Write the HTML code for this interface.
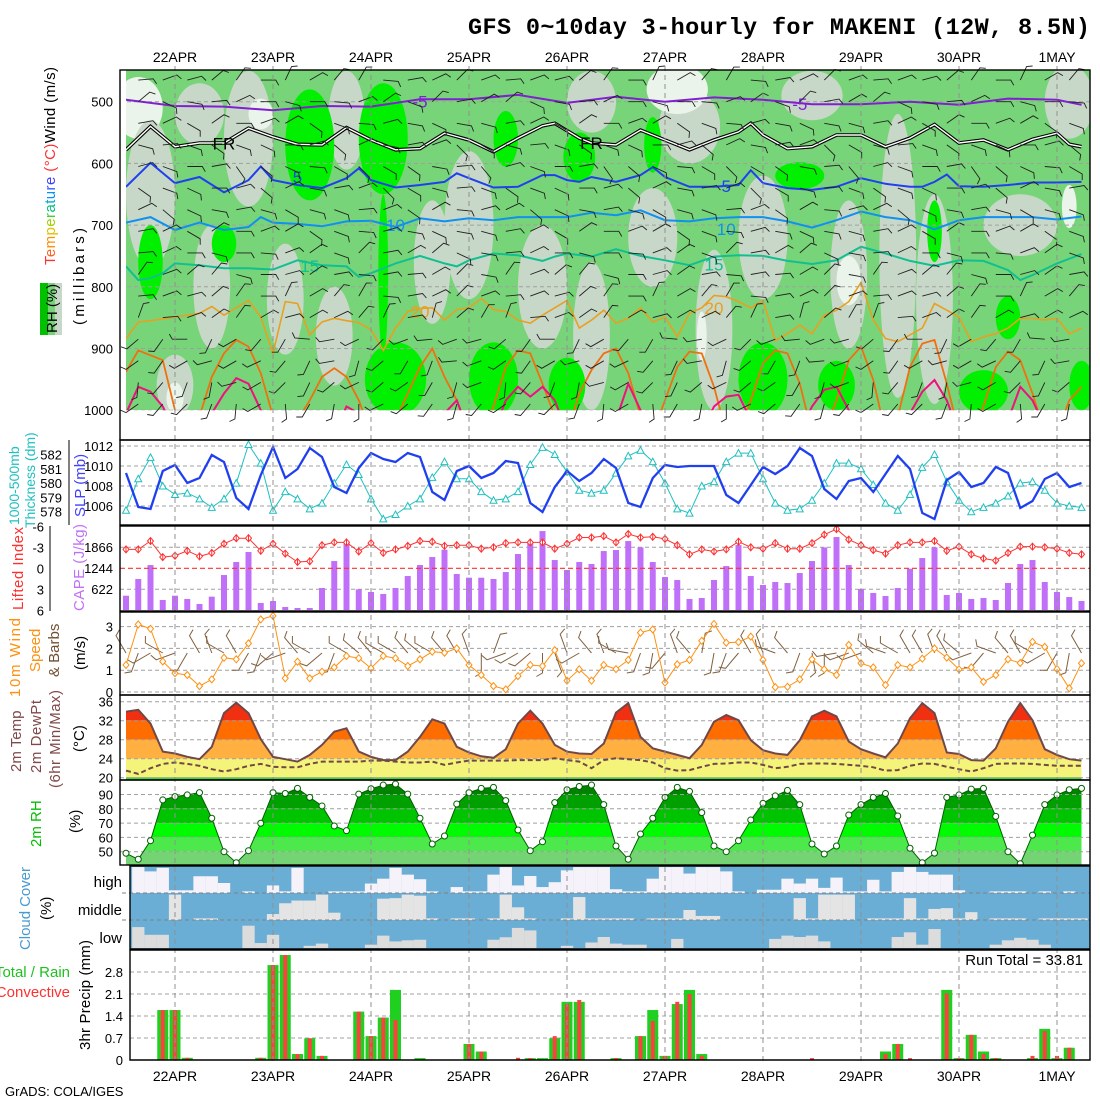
<!DOCTYPE html>
<html><head><meta charset="utf-8"><title>GFS meteogram MAKENI</title>
<style>
html,body{margin:0;padding:0;background:#fff;}
svg{display:block;font-family:"Liberation Sans",sans-serif;}
.tk{font-size:13px;fill:#000;}
.dl{font-size:14px;fill:#000;}
</style></head><body>
<svg id="chart" width="1100" height="1100" viewBox="0 0 1100 1100" xmlns="http://www.w3.org/2000/svg">
<rect x="0" y="0" width="1100" height="1100" fill="#fff"/>
<text x="1090" y="34" text-anchor="end" font-family="Liberation Mono, monospace" font-weight="bold" font-size="23.5" textLength="622">GFS 0~10day 3-hourly for MAKENI (12W, 8.5N)</text>

<text transform="translate(55,265) rotate(-90)" font-size="15" textLength="198"><tspan fill="#ff3030">T</tspan><tspan fill="#ff6020">e</tspan><tspan fill="#ff9000">m</tspan><tspan fill="#e0c000">p</tspan><tspan fill="#a0d000">e</tspan><tspan fill="#40d040">r</tspan><tspan fill="#00c080">a</tspan><tspan fill="#00b0d0">t</tspan><tspan fill="#0090ff">u</tspan><tspan fill="#3060ff">r</tspan><tspan fill="#4040ff">e</tspan><tspan fill="#ff3030"> (°C)</tspan><tspan fill="#000">Wind (m/s)</tspan></text>
<rect x="40" y="283" width="8" height="52" fill="#00c000"/>
<rect x="48" y="283" width="7" height="52" fill="#78d478"/>
<rect x="55" y="283" width="7" height="52" fill="#c8d8c8"/>
<text transform="translate(57,333) rotate(-90)" font-size="15">RH (%)</text>
<text transform="translate(84,325) rotate(-90)" font-size="15" letter-spacing="3.2">(millibars)</text>

<text transform="translate(19,525) rotate(-90)" font-size="14" fill="#20c0c0">1000-500mb</text>
<text transform="translate(35,528) rotate(-90)" font-size="14" fill="#20c0c0">Thickness (dm)</text>
<text transform="translate(85,517) rotate(-90)" font-size="15" fill="#4040ff">SLP (mb)</text>

<text transform="translate(23,610) rotate(-90)" font-size="15" fill="#ff3030" textLength="83">Lifted Index</text>
<text transform="translate(84,611) rotate(-90)" font-size="15" fill="#c070f8" textLength="87">CAPE (J/kg)</text>

<text transform="translate(20,697) rotate(-90)" font-size="15" fill="#ff9010" textLength="79">10m Wind</text>
<text transform="translate(40,672) rotate(-90)" font-size="15" fill="#ff9010">Speed</text>
<text transform="translate(59,677) rotate(-90)" font-size="15" fill="#705030">&amp; Barbs</text>
<text transform="translate(85,670) rotate(-90)" font-size="15">(m/s)</text>

<text transform="translate(21,772) rotate(-90)" font-size="15" fill="#804848">2m Temp</text>
<text transform="translate(41,773) rotate(-90)" font-size="15" fill="#804848" textLength="73">2m DewPt</text>
<text transform="translate(60,788) rotate(-90)" font-size="15" fill="#804848" textLength="98">(6hr Min/Max)</text>
<text transform="translate(84,752) rotate(-90)" font-size="15">(°C)</text>

<text transform="translate(41,847) rotate(-90)" font-size="15" fill="#00c000">2m RH</text>
<text transform="translate(80,833) rotate(-90)" font-size="15">(%)</text>

<text transform="translate(30,950) rotate(-90)" font-size="15" fill="#4a9ad0" textLength="83">Cloud Cover</text>
<text transform="translate(51,920) rotate(-90)" font-size="15">(%)</text>
<text x="122" y="887" text-anchor="end" font-size="15">high</text>
<text x="122" y="915" text-anchor="end" font-size="15">middle</text>
<text x="122" y="943" text-anchor="end" font-size="15">low</text>

<text x="70" y="977" text-anchor="end" font-size="15" fill="#20c020">Total / Rain</text>
<text x="70" y="997" text-anchor="end" font-size="15" fill="#ff3030">Convective</text>
<text transform="translate(90,1050) rotate(-90)" font-size="15" textLength="110">3hr Precip (mm)</text>
<text x="1083" y="965" text-anchor="end" font-size="15">Run Total = 33.81</text>
<text x="5" y="1096" font-size="13">GrADS: COLA/IGES</text>
</svg>
<script>
const dayLabels=["22APR","23APR","24APR","25APR","26APR","27APR","28APR","29APR","30APR","1MAY"];
const pTicks=[500,600,700,800,900,1000];
const slpTicks=[1006,1008,1010,1012];
const thkTicks=[578,579,580,581,582];
const liTicks=[-6,-3,0,3,6];
const capeTicks=[622,1244,1866];
const windTicks=[0,1,2,3];
const tempTicks=[20,24,28,32,36];
const rhTicks=[50,60,70,80,90];
const precipTicks=[0,0.7,1.4,2.1,2.8];

const slp=[1009.3,1005.9,1005.7,1009.5,1010.1,1008.3,1008.8,1011.1,1010.4,1006.8,
1005.7,1009.1,1011.9,1008.8,1009.7,1011.8,1010.9,1007.9,1007.3,1009.8,
1011.3,1010.7,1010.4,1011.3,1010.9,1007.4,1006.6,1009.5,1010,1008.8,
1009.3,1010.5,1010.3,1006.3,1005.4,1007.9,1009.5,1008.5,1009.3,1010.7,
1009.8,1006.3,1005.9,1008.8,1010.1,1009.9,1010,1010,1010,1007.1,
1006.3,1008.1,1009.9,1009.2,1010,1011.8,1011,1007.7,1006.7,1008.5,
1008.8,1007.4,1009.2,1011,1009.7,1005.3,1004.7,1008.6,1009.4,1007.9,
1008.3,1009.9,1009.3,1005.8,1006.5,1008.7,1009.3,1007.9,1008.3];
const thickness=[578.1,580.3,581.8,579.8,579.2,579.3,578.9,578.3,578.9,580.0,
582.7,581.4,578.1,579.4,578.9,578.2,578.6,580.0,581.3,580.6,
578.9,577.5,577.8,578.4,578.9,580.4,581.5,580.3,580.3,579.4,
578.8,578.9,579.4,581.3,582.5,582.0,580.8,579.5,579.3,579.5,
580.7,581.9,582.3,581.5,580.0,578.2,577.9,579.8,580.1,581.5,
582.1,582.1,580.3,578.6,578.1,578.2,578.8,580.0,581.4,581.4,
581.0,579.9,578.6,578.1,579.2,581.1,582.0,580.1,578.8,578.0,
578.3,578.6,579.1,580.0,580.1,579.5,578.6,578.4,578.3];
const liftedIndex=[-2.7,-2.7,-3.9,-1.6,-1.8,-2.5,-1.7,-2.2,-3.5,-4.3,
-4.3,-2.5,-3.5,-2.1,-0.9,-1.0,-3.3,-3.7,-3.7,-2.4,
-3.6,-2.2,-2.7,-3.2,-3.9,-3.8,-3.2,-3.3,-3.3,-2.8,
-3.0,-3.6,-3.7,-3.7,-3.7,-2.8,-3.5,-4.4,-4.4,-4.6,
-3.7,-4.9,-4.4,-4.5,-4.2,-3.3,-2.0,-2.7,-2.4,-2.7,
-3.8,-3.0,-2.8,-3.6,-2.8,-2.8,-3.6,-4.8,-5.6,-4.1,
-3.3,-2.6,-2.1,-3.3,-3.7,-3.7,-3.9,-2.5,-3.1,-2.0,
-1.4,-1.1,-2.2,-3.1,-3.1,-3.0,-2.8,-2.2,-2.0];
const cape=[423,918,1332,296,423,326,178,395,1036,1421,
1717,207,266,89,59,59,651,1450,1983,612,
533,474,651,1006,1332,1569,1786,1066,957,957,
918,1125,1658,2013,2338,1480,1184,1421,1362,1746,
1776,2042,1855,1421,977,888,326,355,888,1302,
1924,1006,740,829,799,1095,1450,1855,2161,1332,
622,503,414,651,1223,1539,1855,444,503,326,
355,296,799,1362,1480,829,533,384,266];
const windSpeed=[1.24,3.1,2.9,1.4,0.86,0.78,0.27,0.58,1.57,1.5,
2.23,3.33,3.49,0.63,1.39,0.63,0.93,1.13,1.65,1.55,
1.09,1.65,1.55,1.19,1.5,1.85,1.8,2.0,1.24,0.78,
0.27,0.12,0.73,1.24,1.19,1.92,0.52,1.04,0.52,1.24,
1.05,1.47,2.72,2.87,0.43,1.27,1.47,2.35,3.12,2.26,
2.29,2.54,1.47,0.22,0.24,0.58,1.5,1.04,0.78,2.16,
1.32,1.13,0.32,1.24,1.13,1.53,2.0,1.58,1.04,1.13,
0.47,0.78,1.5,1.33,2.3,2.07,1.05,0.17,1.32];
const windDir=[330,200,240,300,250,210,330,340,300,330,
210,200,230,250,320,300,230,200,300,310,
320,300,300,320,310,300,320,330,340,180,
20,250,240,230,180,160,340,240,320,340,
300,280,200,190,220,340,320,10,190,200,
220,330,340,290,320,200,170,180,260,250,
250,310,290,300,330,330,340,330,310,250,
220,290,320,330,300,240,210,190,330];
const temp2m=[33.9,34.3,31.4,25.5,25.1,24.4,23.9,26.5,33.6,35.8,
33.6,28.1,24.4,23.9,23.4,24.8,26.9,29.7,30.4,25.5,
24.4,23.7,23.7,25.5,28.6,32.3,31.4,26.5,25.3,24.5,
24.2,26,31.4,34.1,31.4,26.9,25.5,25.1,25,27.2,
33.7,35.7,28.6,26.2,25.5,24.8,24.1,26.9,31.8,33.2,
32.1,27.9,25.8,25.1,24.8,27.9,32.9,34.1,32.9,27.6,
26,25.1,24.3,27.2,32.5,35.7,33.6,25.3,25,23.7,
23.6,26.2,31.8,35.7,32.1,26,24.8,23.9,23.6];
const dewpt2m=[21.5,20.8,22.0,22.9,23.2,22.9,22.5,21.8,21.3,21.8,
22.5,22.9,22.3,22.2,22.2,22.9,23.4,23.4,23.4,23.4,
23.6,23.6,23.4,23.2,23.2,23.4,22.7,23.2,23.6,23.6,
23.6,23.6,23.7,23.7,23.7,24.1,23.7,23.4,22.0,23.7,
24.1,23.9,23.7,23.2,22.0,21.5,21.6,22.3,22.9,23.0,
23.2,23.2,22.7,22.0,22.3,22.9,23.0,23.0,22.9,22.7,
22.5,22.2,21.5,21.6,22.5,23.0,22.9,22.3,21.8,21.3,
22.0,22.9,23.0,23.0,22.9,22.7,22.5,22.5,22.5];
const rh2m=[48.9,44.7,57.7,86.2,88.5,89.7,91.3,73.4,50,42.3,
50.7,69.9,91.3,90.7,94.3,88,82,68,64.7,90.3,
94,96.6,97.3,90.3,73.4,55.4,61,83.4,91.3,94.3,
95,85.7,65.2,50.7,57,84.3,93.3,95.6,96.6,82.9,
54,44.7,62.4,73.4,88,95,92.2,77.3,54,50,
57.7,72.2,83.8,89,92.9,82.9,55.4,48.4,54,75.7,
82.9,88,90.7,75,52.4,42.3,49,88,89.7,93.8,
94.3,74.7,50,41.6,61.6,82.9,89.7,93.3,94.3];
const cloudHigh=[0,96,80,93,10,10,62,62,37,0,
6,0,28,6,93,0,0,6,6,6,
35,53,93,68,51,6,0,22,6,6,
68,96,28,63,22,40,84,96,96,96,
14,6,6,53,96,96,72,96,96,80,
6,0,12,12,53,35,53,19,57,6,
6,49,6,78,96,78,68,68,10,0,
0,6,6,6,0,6,0,6,0];
const cloudMid=[0,0,0,0,94,0,6,6,0,0,
0,0,22,62,72,72,94,27,0,0,
0,79,81,94,90,6,0,6,6,0,
6,94,47,6,0,0,6,85,6,6,
6,6,0,6,6,6,37,15,15,0,
0,0,0,0,0,81,6,94,94,94,
0,6,6,6,81,6,41,44,6,29,
0,6,6,6,0,6,6,6,6];
const cloudLow=[0,76,48,48,0,0,0,0,0,0,
81,18,48,0,0,8,16,0,0,0,
12,45,24,28,30,0,0,0,0,0,
30,39,73,64,0,0,8,0,20,40,
16,12,12,0,0,33,0,0,0,0,
0,0,0,33,45,40,45,24,0,0,
0,0,0,40,57,12,69,0,0,0,
0,12,28,37,30,12,0,0,0];
const precipTotal=[0,0,0,1.59,1.59,0.07,0,0,0,0,
0,0.07,3.02,3.34,0.19,0.69,0.13,0,0,1.54,
0.76,1.35,2.23,0,0.06,0,0,0,0.51,0.27,
0,0,0,0.06,0.06,0.69,1.85,1.85,0,0,
0.06,0,0.76,1.59,0.13,1.78,2.23,0.19,0,0,
0,0,0,0,0,0,0,0,0,0,
0,0,0.27,0.51,0,0,0,2.23,0.06,0.80,
0.27,0.06,0,0,0.06,0.99,0.06,0.39,0];
const precipConv=[0,0,0,1.59,1.59,0.07,0,0,0,0,
0,0.07,3.02,3.34,0.19,0.69,0.13,0,0,1.54,
0.76,1.35,1.27,0,0,0,0,0,0.51,0.27,
0,0,0.07,0.06,0,0.76,1.78,1.91,0,0,
0.06,0,0.76,1.24,0.13,1.85,2.1,0.13,0,0,
0,0,0,0,0,0,0.06,0,0,0,
0,0,0.19,0.51,0.06,0,0,2.12,0.06,0.80,
0.19,0.06,0,0,0.13,0.92,0.13,0.39,0];

const isoM5T=[0,4,8,12,16,20,24,28,32,36,40,44,48,52,56,60,64,68,72,76,78];
const isoM5P=[497,507,508,514,507,508,496,496,489,502,492,500,493,497,504,504,500,505,495,497,505];
const isoFRT=[0,2,4,6,8,10,12,14,16,18,20,22,24,26,28,30,32,34,35,37,38,40,42,44,46,48,50,51,52,54,56,58,60,62,64,66,68,70,71,72,74,76,77,78];
const isoFRP=[578,540,573,567,567,543,557,569,570,542,562,578,576,551,562,581,559,539,535,559,567,570,546,562,578,562,549,535,554,576,573,554,554,573,559,537,567,562,570,578,561,551,569,573];
const iso5T=[0,2,4,6,8,10,11,12,14,16,18,19,20,22,24,26,27,28,30,32,34,35,36,37,38,40,42,43,44,46,48,50,51,52,54,56,58,60,62,64,65,66,67,68,70,72,74,76,78];
const iso5P=[638,599,632,622,647,627,605,627,635,640,624,608,627,639,635,630,616,624,639,638,619,619,627,630,622,630,619,606,622,638,638,635,611,632,640,643,638,624,633,638,638,630,618,637,638,635,631,631,630];
const iso10T=[0,2,4,6,8,10,11,12,14,16,18,20,22,24,26,28,30,32,34,36,38,40,42,44,46,48,50,52,54,56,58,60,62,64,66,68,70,72,74,76,78];
const iso10P=[696,687,708,696,708,703,687,696,698,702,694,693,703,689,694,689,692,687,687,687,680,684,676,692,694,689,687,687,694,704,692,678,687,692,707,692,687,687,687,691,686];
const iso15T=[0,1,2,3,4,6,8,10,12,14,16,18,19,20,22,24,26,27,28,30,32,34,35,36,38,40,42,44,46,48,50,52,54,56,58,60,62,64,66,68,70,72,73,74,76,78];
const iso15P=[767,789,786,778,762,765,770,770,772,757,765,767,784,778,762,750,762,767,757,746,749,758,751,746,751,739,750,757,765,751,749,750,758,763,757,735,746,758,766,757,758,773,789,781,762,747];
const iso20P=[884,857,855,852,849,846,843,832,846,834,822,849,908,824,827,878,857,851,855,858,
870,903,867,840,835,834,854,837,834,819,837,840,854,859,846,834,822,867,854,838,
859,851,834,857,849,881,843,834,814,816,824,834,822,887,876,862,876,846,838,824,
793,854,884,889,878,867,827,838,849,889,881,876,867,851,851,854,851,876,867];
const iso25P=[938,903,911,919,1000,1037,1010,946,908,886,897,940,1010,1037,1016,984,946,932,946,984,
1037,1037,1016,973,930,900,946,984,1037,1037,994,930,903,908,957,1010,1037,973,935,908,
900,940,1010,1037,984,930,905,908,962,1037,1037,984,924,903,908,957,1037,1037,984,919,
897,951,1037,1010,930,892,886,957,1037,1037,994,930,905,919,973,1037,1037,984,962];
const iso30P=[1005,962,970,994,1037,1037,1037,1005,973,948,957,1000,1037,1037,1037,1037,1037,1037,994,1005,
1037,1037,1037,1037,1037,1037,1005,984,1037,1037,1037,984,962,978,962,984,1037,1037,1037,1037,
1016,957,1000,1037,1037,1037,1037,1037,994,978,975,1016,1037,1037,1037,1037,994,967,962,1000,
1037,1037,1037,1037,1005,970,951,984,1037,1037,1037,1037,1016,962,984,1027,1037,1037,1037];
const patchT=[1,2,6,10,11,28,52,7,17,13,4,4,18,25,34,38,38,43,46,45,48,47,56,59,59,63,66,73,77,77, 15,8,2,21,21,22,31,30,36,37,43,52,55,58,66,70,72,78];
const patchP=[510,650,520,560,520,700,720,800,880,820,960,980,530,760,800,500,880,720,540,480,870,880,490,780,790,750,820,700,500,670, 570,730,760,560,780,950,560,950,960,590,570,950,620,960,710,970,850,960];
const patchW=[2,2,2,2,1,2,2,1.5,1.5,1.5,1.5,0.7,1.5,1.5,2,2,1.5,2,2.5,2.5,1.5,0.4,2.5,1.5,1,1.5,1.5,3,2,0.6, 2,1,1,2,0.4,2.5,1,2,1.5,1.3,0.7,2,2,1.5,0.6,2,1,1];
const patchH=[50,120,50,110,25,120,100,100,80,90,50,25,80,100,100,50,120,80,60,40,130,40,40,120,40,230,170,50,60,35, 90,30,60,90,130,60,45,60,45,40,45,60,22,40,50,35,35,40];
const patchK=["l","g","g","g","l","g","g","g","g","g","g","l","g","g","g","g","g","g","g","l","g","l","g","g","l","g","g","g","g","l", "b","b","b","b","b","b","b","b","b","b","b","b","b","b","b","b","b","b"];
const barbLevels=[465,500,535,570,605,640,675,710,745,780,815,850,885,920,955,990];
const barbDirs=[60,80,90,100,110,100,95,90,80,70,60,50,240,230,220,210];
const barbVar=[0,25,-20,10,-30,15,35,-10,20,-25,5,30,-15,-35,10];

const NS='http://www.w3.org/2000/svg';
const svg=document.getElementById('chart');
function mk(tag,attrs,parent){const e=document.createElementNS(NS,tag);for(const k in attrs)e.setAttribute(k,attrs[k]);(parent||svg).appendChild(e);return e;}
const X=n=>126+12.25*n;
const dayX=k=>175+98*k;
const Yp=p=>101.7+(p-500)*0.617;
const Ys=v=>506-(v-1006)*10;
const Yth=v=>511.7-(v-578)*14.3;
const Yli=v=>568.3+v*7;
const Yc=v=>610-v*21/622;
const Yw=v=>692-v*21.8;
const Yt=v=>777.7-(v-20)*4.75;
const Yr=v=>851.7-(v-50)*1.43;
const Ypr=v=>1060-v*31.43;
function ptsFull(arr,yf){return arr.map((v,i)=>X(i).toFixed(1)+','+yf(v).toFixed(1)).join(' ');}
function ptsSparse(ts,ps,yf){return ts.map((t,i)=>X(t).toFixed(1)+','+yf(ps[i]).toFixed(1)).join(' ');}
const defs=mk('defs',{});

// top panel
const cp=mk('clipPath',{id:'topclip'},defs);
mk('rect',{x:126,y:70.5,width:964,height:339.7},cp);
const topG=mk('g',{'clip-path':'url(#topclip)'});


const bgTop=mk('rect',{x:126,y:70,width:964,height:340,fill:'#78d478'},topG);


const patchCol={g:'#c8d8c8',l:'#eaf4ea',b:'#00f000'};
patchT.forEach((t,i)=>{
  const e=mk('ellipse',{cx:X(t),cy:Yp(patchP[i]),rx:patchW[i]*12.25,ry:patchH[i]*0.617,fill:patchCol[patchK[i]]},topG);
  
  
});
pTicks.forEach(p=>{
  const l=mk('line',{x1:120,x2:1090,y1:Yp(p),y2:Yp(p),stroke:'#a0a0a0','stroke-dasharray':'4,3','stroke-width':1},topG);
  
  
});
function isoLine(pstr,color,w,name,dbl){
  if(dbl){const b=mk('polyline',{points:pstr,fill:'none',stroke:'#000','stroke-width':3.6},topG);
    
    }
  const l=mk('polyline',{points:pstr,fill:'none',stroke:color,'stroke-width':w},topG);
  
  
}
isoLine(ptsSparse(isoM5T,isoM5P,Yp),'#8020d0',2,'isotherm-minus5');
isoLine(ptsSparse(isoFRT,isoFRP,Yp),'#fff',1.4,'freezing-line',true);
isoLine(ptsSparse(iso5T,iso5P,Yp),'#2040f0',2,'isotherm-5');
isoLine(ptsSparse(iso10T,iso10P,Yp),'#1090f0',2,'isotherm-10');
isoLine(ptsSparse(iso15T,iso15P,Yp),'#10c090',2,'isotherm-15');
isoLine(ptsFull(iso20P,Yp),'#e8a020',1.6,'isotherm-20');
isoLine(ptsFull(iso25P,Yp),'#f07010',1.8,'isotherm-25');
isoLine(ptsFull(iso30P,Yp),'#f01080',2,'isotherm-30');
const isoLabT=[24,55,8,38,14,49,22,49,15,48,24,48];
const isoLabP=[500,504,568,567,622,637,700,706,766,764,840,834];
const isoLabS=['-5','-5','FR','FR','5','5','10','10','15','15','20','20'];
const isoLabC=['#8020d0','#8020d0','#000','#000','#2040f0','#2040f0','#1090f0','#1090f0','#10c090','#10c090','#e8a020','#e8a020'];
isoLabS.forEach((s,i)=>{
  const t=mk('text',{x:X(isoLabT[i]),y:Yp(isoLabP[i])+6,fill:isoLabC[i],'font-size':17,'text-anchor':'middle'});
  t.textContent=s;
  
  
});
const barbG=mk('g',{stroke:'#202020','stroke-width':0.9,fill:'none'});


for(let t=1;t<=77;t+=2){
  barbLevels.forEach((p,j)=>{
    const d=(barbDirs[j]+barbVar[(t+j*3)%barbVar.length])*Math.PI/180;
    const x0=X(t),y0=Yp(p),L=15;
    const x1=x0+L*Math.sin(d),y1=y0-L*Math.cos(d);
    const d2=d+Math.PI/3;
    const x2=x1+6*Math.sin(d2),y2=y1-6*Math.cos(d2);
    const b=mk('path',{d:`M${x0.toFixed(1)},${y0.toFixed(1)}L${x1.toFixed(1)},${y1.toFixed(1)}L${x2.toFixed(1)},${y2.toFixed(1)}`},barbG);
    
    
  });
}

// panel 2
slpTicks.forEach(v=>{
  const l=mk('line',{x1:120,x2:1090,y1:Ys(v),y2:Ys(v),stroke:'#a0a0a0','stroke-dasharray':'4,3'});
  
  
  const t=mk('text',{x:113,y:Ys(v)+5,'text-anchor':'end',class:'tk'});t.textContent=v;
  
  
});
thkTicks.forEach(v=>{
  const t=mk('text',{x:62,y:Yth(v)+5,'text-anchor':'end',class:'tk'});t.textContent=v;
  
  
});
const thkL=mk('polyline',{points:ptsFull(thickness,Yth),fill:'none',stroke:'#20c0c0','stroke-width':1});


thickness.forEach((v,i)=>{
  const x=X(i),y=Yth(v);
  const m=mk('path',{d:`M${x-3.5},${y+3}L${x},${y-3.5}L${x+3.5},${y+3}Z`,fill:'#fff',stroke:'#20c0c0','stroke-width':1});
  
  
});
const slpL=mk('polyline',{points:ptsFull(slp,Ys),fill:'none',stroke:'#2040f0','stroke-width':2.3});



// panel 3
[-3,3].forEach(v=>{
  const l=mk('line',{x1:120,x2:1090,y1:Yli(v),y2:Yli(v),stroke:'#a0a0a0','stroke-dasharray':'4,3'});
  
  
});
cape.forEach((v,i)=>{
  const b=mk('rect',{x:X(i)-3,y:Yc(v),width:6,height:610-Yc(v),fill:'#c070f8'});
  
  
});
const li0=mk('line',{x1:120,x2:1090,y1:Yli(0),y2:Yli(0),stroke:'#ff3030','stroke-dasharray':'5,3','stroke-width':1.2});


const liL=mk('polyline',{points:ptsFull(liftedIndex,Yli),fill:'none',stroke:'#ff3030','stroke-width':1});


liftedIndex.forEach((v,i)=>{
  const x=X(i),y=Yli(v);
  const m=mk('path',{d:`M${x-3},${y}L${x},${y-3.5}L${x+3},${y}L${x},${y+3.5}ZM${x},${y-3.5}L${x},${y+3.5}`,fill:'#fff',stroke:'#ff3030','stroke-width':1});
  
  
});
liTicks.forEach(v=>{
  const t=mk('text',{x:44,y:Yli(v)+5,'text-anchor':'end',class:'tk'});t.textContent=v;
  
  
});
capeTicks.forEach(v=>{
  const t=mk('text',{x:113,y:Yc(v)+5,'text-anchor':'end',class:'tk'});t.textContent=v;
  
  
});

// panel 4
windTicks.forEach(v=>{
  const l=mk('line',{x1:120,x2:1090,y1:Yw(v),y2:Yw(v),stroke:'#a0a0a0','stroke-dasharray':'4,3'});
  
  
  const t=mk('text',{x:113,y:Yw(v)+5,'text-anchor':'end',class:'tk'});t.textContent=v;
  
  
});
const wbG=mk('g',{stroke:'#806040','stroke-width':1,fill:'none'});


windDir.forEach((dg,i)=>{
  const d=dg*Math.PI/180,x0=X(i),y0=653,L=20;
  const x1=x0+L*Math.sin(d),y1=y0-L*Math.cos(d);
  const d2=d+Math.PI/3,x2=x1+7*Math.sin(d2),y2=y1-7*Math.cos(d2);
  const b=mk('path',{d:`M${x0.toFixed(1)},${y0}L${x1.toFixed(1)},${y1.toFixed(1)}L${x2.toFixed(1)},${y2.toFixed(1)}`},wbG);
  
  
});
const wsL=mk('polyline',{points:ptsFull(windSpeed,Yw),fill:'none',stroke:'#ff9010','stroke-width':1});


windSpeed.forEach((v,i)=>{
  const x=X(i),y=Yw(v);
  const m=mk('path',{d:`M${x-3},${y}L${x},${y-3.5}L${x+3},${y}L${x},${y+3.5}Z`,fill:'#fff',stroke:'#ff9010','stroke-width':1});
  
  
});

// panel 5
const tArea='M'+X(0)+','+Yt(19.5)+' L'+ptsFull(temp2m,Yt).split(' ').join(' L')+' L'+X(78)+','+Yt(19.5)+'Z';
const tc=mk('clipPath',{id:'tclip'},defs);
mk('path',{d:tArea},tc);
const tg=mk('g',{'clip-path':'url(#tclip)'});


const tBandLo=[32,28,24,19];const tBandHi=[40,32,28,24];const tBandC=['#f03010','#ff6c00','#ffb040','#f4f47a'];
tBandLo.forEach((lo,i)=>{
  const r=mk('rect',{x:120,y:Yt(tBandHi[i]),width:970,height:Yt(lo)-Yt(tBandHi[i]),fill:tBandC[i]},tg);
  
  
});
const gs=mk('rect',{x:126,y:777.3,width:X(78)-126,height:2.7,fill:'#40d040'});


tempTicks.forEach(v=>{
  const l=mk('line',{x1:120,x2:1090,y1:Yt(v),y2:Yt(v),stroke:'#a0a0a0','stroke-dasharray':'4,3'});
  
  
  const t=mk('text',{x:113,y:Yt(v)+5,'text-anchor':'end',class:'tk'});t.textContent=v;
  
  
});
const tdL=mk('polyline',{points:ptsFull(dewpt2m,Yt),fill:'none',stroke:'#704848','stroke-width':2,'stroke-dasharray':'5,3'});


const tL=mk('polyline',{points:ptsFull(temp2m,Yt),fill:'none',stroke:'#704848','stroke-width':2});



// panel 6
const rArea='M'+X(0)+',865 L'+ptsFull(rh2m,Yr).split(' ').join(' L')+' L'+X(78)+',865Z';
const rc=mk('clipPath',{id:'rclip'},defs);
mk('path',{d:rArea},rc);
const rg=mk('g',{'clip-path':'url(#rclip)'});


const rBandLo=[90,80,70,60,50,30];const rBandHi=[110,90,80,70,60,50];const rBandC=['#008400','#00a000','#00c400','#00fa00','#4ce84c','#74d474'];
rBandLo.forEach((lo,i)=>{
  const r=mk('rect',{x:120,y:Yr(rBandHi[i]),width:970,height:Yr(lo)-Yr(rBandHi[i]),fill:rBandC[i]},rg);
  
  
});
rhTicks.forEach(v=>{
  const l=mk('line',{x1:120,x2:1090,y1:Yr(v),y2:Yr(v),stroke:'#a0a0a0','stroke-dasharray':'4,3'});
  
  
  const t=mk('text',{x:113,y:Yr(v)+5,'text-anchor':'end',class:'tk'});t.textContent=v;
  
  
});
const rL=mk('polyline',{points:ptsFull(rh2m,Yr),fill:'none',stroke:'#006000','stroke-width':1});


rh2m.forEach((v,i)=>{
  const c=mk('circle',{cx:X(i),cy:Yr(v),r:3,fill:'#fff',stroke:'#006000','stroke-width':1});
  
  
});

// panel 7
const ccp=mk('clipPath',{id:'cclip'},defs);
mk('rect',{x:130,y:866,width:960,height:83},ccp);
const cg=mk('g',{'clip-path':'url(#cclip)'});


const cbg=mk('rect',{x:130,y:866,width:960,height:83,fill:'#6aaed6'},cg);


function cloudRow(arr,topY,h,color,name){
  arr.forEach((v,i)=>{
    if(v<=0)return;
    const hh=h*v/100;
    const r=mk('rect',{x:X(i)-6.125,y:topY+h-hh,width:12.3,height:hh,fill:color},cg);
    
    
  });
}
cloudRow(cloudHigh,866,27,'#f6f2fa','cloud-high-bar');
cloudRow(cloudMid,893,27,'#e4e4e4','cloud-middle-bar');
cloudRow(cloudLow,920.5,27.5,'#dcdcdc','cloud-low-bar');
[893,920].forEach(y=>{
  const l=mk('line',{x1:122,x2:1090,y1:y,y2:y,stroke:'#808080','stroke-dasharray':'4,3'});
  
  
});

// panel 8
precipTicks.forEach(v=>{
  if(v>0){const l=mk('line',{x1:130,x2:1090,y1:Ypr(v),y2:Ypr(v),stroke:'#a0a0a0','stroke-dasharray':'4,3'});
  
  }
  const t=mk('text',{x:123,y:Ypr(v)+5,'text-anchor':'end',class:'tk'});t.textContent=v;
  
  
});
precipTotal.forEach((v,i)=>{
  if(v<=0)return;
  const b=mk('rect',{x:X(i)-5.5,y:Ypr(v),width:11,height:1060-Ypr(v),fill:'#20d020'});
  
  
});
precipConv.forEach((v,i)=>{
  if(v<=0)return;
  const b=mk('rect',{x:X(i)-2,y:Ypr(v),width:4,height:1060-Ypr(v),fill:'#ff4040'});
  
  
});

// grid, frames, labels
dayLabels.forEach((s,k)=>{
  const l=mk('line',{x1:dayX(k),x2:dayX(k),y1:66,y2:1064,stroke:'#909090','stroke-dasharray':'5,4','stroke-width':1});
  
  
  const t1=mk('text',{x:dayX(k),y:62,'text-anchor':'middle',class:'dl'});t1.textContent=s;
  
  
  const t2=mk('text',{x:dayX(k),y:1081,'text-anchor':'middle',class:'dl'});t2.textContent=s;
  
  
});
pTicks.forEach(p=>{
  const t=mk('text',{x:113,y:Yp(p)+5,'text-anchor':'end',class:'tk'});t.textContent=p;
  
  
});
const frameY=[[70,440],[440,525],[526,611],[612,695],[695,780],[780,865]];
frameY.forEach(f=>{
  const r=mk('rect',{x:120,y:f[0],width:970,height:f[1]-f[0],fill:'none',stroke:'#000','stroke-width':1.4});
  
  
});
const f7=mk('rect',{x:130,y:866,width:960,height:83,fill:'none',stroke:'#000','stroke-width':1.4});


const f8=mk('path',{d:'M130,950L1090,950L1090,1060L130,1060Z',fill:'none',stroke:'#000','stroke-width':1.4});


const a1=mk('line',{x1:69,x2:69,y1:440,y2:525,stroke:'#000','stroke-width':1});


const a2=mk('line',{x1:50,x2:50,y1:526,y2:611,stroke:'#000','stroke-width':1});


</script>
</body></html>
